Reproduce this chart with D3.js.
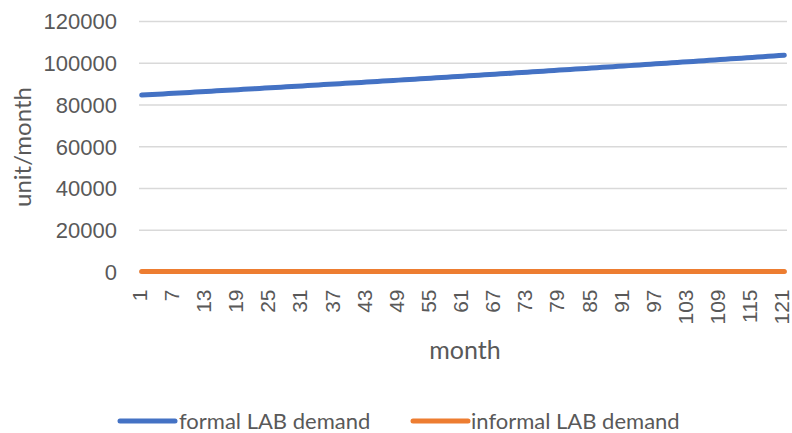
<!DOCTYPE html>
<html>
<head>
<meta charset="utf-8">
<script src="https://cdn.jsdelivr.net/npm/d3@7"></script>
<style>
  html, body { margin: 0; padding: 0; background: #fff; }
  svg { display: block; font-family: Lato, "Open Sans", sans-serif; }
</style>
</head>
<body>
<svg id="chart" width="792" height="433"></svg>
<script>
const months = d3.range(1, 122);
const seriesNames = ["formal LAB demand", "informal LAB demand"];
const formalDemand = [
  84500, 84644, 84788, 84932, 85076, 85221, 85366, 85511, 85656, 85802,
  85948, 86094, 86240, 86387, 86533, 86681, 86828, 86976, 87123, 87272,
  87420, 87569, 87717, 87866, 88016, 88165, 88315, 88466, 88616, 88767,
  88917, 89069, 89220, 89372, 89524, 89676, 89828, 89981, 90134, 90287,
  90441, 90594, 90748, 90903, 91057, 91212, 91367, 91522, 91678, 91834,
  91990, 92146, 92303, 92460, 92617, 92775, 92932, 93090, 93249, 93407,
  93566, 93725, 93884, 94044, 94204, 94364, 94524, 94685, 94846, 95007,
  95169, 95330, 95492, 95655, 95817, 95980, 96144, 96307, 96471, 96635,
  96799, 96964, 97128, 97293, 97459, 97625, 97791, 97957, 98123, 98290,
  98457, 98625, 98792, 98960, 99128, 99297, 99466, 99635, 99804, 99974,
  100144, 100314, 100485, 100655, 100827, 100998, 101170, 101342, 101514, 101686,
  101859, 102032, 102206, 102380, 102554, 102728, 102903, 103078, 103253, 103428,
  103604
];
const informalDemand = [
  0, 0, 0, 0, 0, 0, 0, 0, 0, 0,
  0, 0, 0, 0, 0, 0, 0, 0, 0, 0,
  0, 0, 0, 0, 0, 0, 0, 0, 0, 0,
  0, 0, 0, 0, 0, 0, 0, 0, 0, 0,
  0, 0, 0, 0, 0, 0, 0, 0, 0, 0,
  0, 0, 0, 0, 0, 0, 0, 0, 0, 0,
  0, 0, 0, 0, 0, 0, 0, 0, 0, 0,
  0, 0, 0, 0, 0, 0, 0, 0, 0, 0,
  0, 0, 0, 0, 0, 0, 0, 0, 0, 0,
  0, 0, 0, 0, 0, 0, 0, 0, 0, 0,
  0, 0, 0, 0, 0, 0, 0, 0, 0, 0,
  0, 0, 0, 0, 0, 0, 0, 0, 0, 0,
  0
];
const yTicks = [0, 20000, 40000, 60000, 80000, 100000, 120000];
const xTickLabels = [1, 7, 13, 19, 25, 31, 37, 43, 49, 55, 61, 67, 73, 79, 85, 91, 97, 103, 109, 115, 121];

const colors = ["#4472C4", "#ED7D31"];
const textColor = "#595959";
const gridColor = "#D9D9D9";

const svg = d3.select("#chart");
const plotL = 139, plotR = 787, plotT = 21, plotB = 271.5;

const x = d3.scalePoint().domain(months).range([plotL, plotR]).padding(0.5);
const y = d3.scaleLinear().domain([0, 120000]).range([plotB, plotT]);

// gridlines
const yAxis = d3.axisLeft(y).tickValues(yTicks).tickSize(-(plotR - plotL)).tickPadding(22).tickFormat(d3.format("d"));
const gy = svg.append("g").attr("transform", `translate(${plotL},0)`).call(yAxis);
gy.select(".domain").remove();
gy.selectAll(".tick line").attr("stroke", gridColor).attr("stroke-width", 1.5);
gy.selectAll(".tick text").attr("fill", textColor).style("font-size", "22px").attr("dy", "0.36em");

// x axis
const xAxis = d3.axisBottom(x).tickValues(xTickLabels).tickSize(0).tickPadding(0);
const gx = svg.append("g").attr("transform", `translate(0,${plotB})`).call(xAxis);
gx.select(".domain").attr("stroke", gridColor).attr("stroke-width", 1.5).attr("d", `M${plotL},0H${plotR}`);
gx.selectAll(".tick text")
  .attr("fill", textColor).style("font-size", "21px")
  .attr("transform", "rotate(-90)")
  .attr("text-anchor", "end")
  .attr("x", -18).attr("y", -3).attr("dy", "0.36em");

// lines
const line = d3.line().x((d, i) => x(months[i])).y(d => y(d));
[formalDemand, informalDemand].forEach((s, k) => {
  svg.append("path").datum(s)
    .attr("fill", "none").attr("stroke", colors[k]).attr("stroke-width", 5)
    .attr("stroke-linecap", "round").attr("stroke-linejoin", "round")
    .attr("d", line);
});

// axis titles
svg.append("text").attr("x", 465).attr("y", 350).attr("text-anchor", "middle").attr("dy", "0.35em")
  .attr("fill", textColor).style("font-size", "25px").text("month");
svg.append("text").attr("transform", "translate(23,147) rotate(-90)").attr("text-anchor", "middle").attr("dy", "0.35em")
  .attr("fill", textColor).style("font-size", "24px").text("unit/month");

// legend
const legendItems = [{x: 120, tx: 179}, {x: 413, tx: 471}];
seriesNames.forEach((name, k) => {
  const it = legendItems[k];
  svg.append("line").attr("x1", it.x).attr("x2", it.x + 55).attr("y1", 421).attr("y2", 421)
    .attr("stroke", colors[k]).attr("stroke-width", 5).attr("stroke-linecap", "round");
  svg.append("text").attr("x", it.tx).attr("y", 421).attr("dy", "0.36em")
    .attr("fill", textColor).style("font-size", "22px").text(name);
});
</script>
</body>
</html>
